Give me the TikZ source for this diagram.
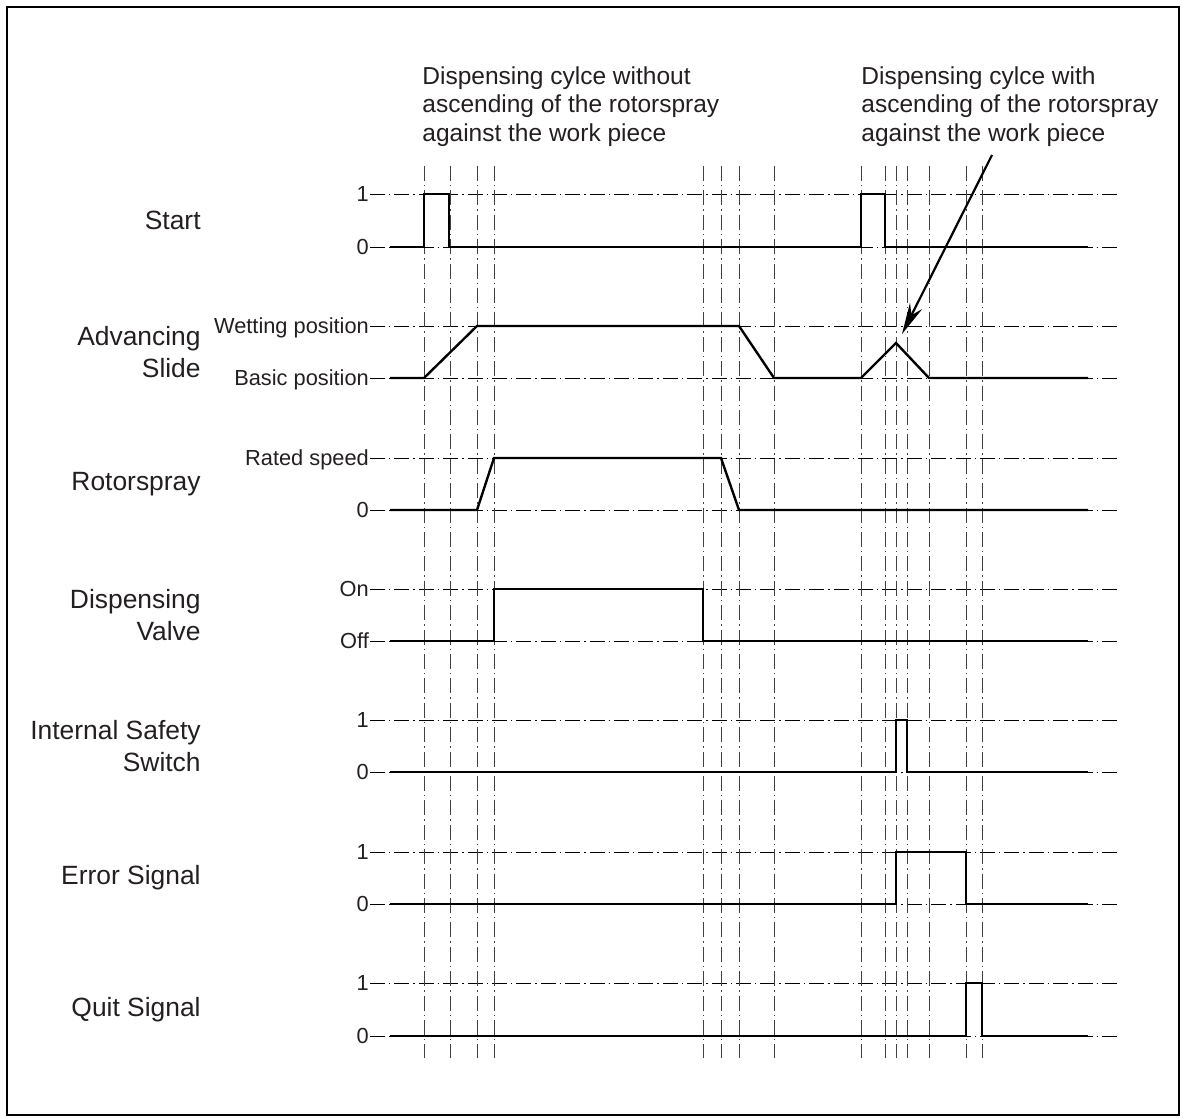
\documentclass[tikz,border=0pt]{standalone}
\usepackage{fontspec}
\setmainfont{Liberation Sans}
\usepackage{xcolor}
\usetikzlibrary{arrows.meta}

\definecolor{ink}{HTML}{231F20}

\begin{document}
\begin{tikzpicture}[
    x=0.5pt, y=-0.5pt,
    chname/.style={anchor=east, align=right, inner sep=0pt, text=ink, font=\fontsize{13.2}{16}\selectfont},
    lvl/.style={anchor=east, inner sep=0pt, outer sep=0.6pt, text=ink, text height=1.38ex, text depth=0pt, font=\fontsize{10.9}{13}\selectfont},
    note/.style={anchor=north west, align=left, inner sep=0pt, text=ink, font=\fontsize{12.25}{14.3}\selectfont},
    refl/.style={line width=0.45pt, dash pattern=on 7.5pt off 2pt on 0.7pt off 2pt},
    vline/.style={line width=0.45pt, black!75, dash pattern=on 7.5pt off 2pt on 0.7pt off 2pt},
    sig/.style={line width=1.2pt, line join=miter},
    arrow/.style={-{Stealth[length=5.5mm, width=2.4mm]}, line width=1.1pt}
]
\useasboundingbox (0,0) rectangle (1183,1118);
\draw[line width=1.3pt] (7,7) rectangle (1179,1115);

% headings
\node[note] (without) at (422,66) {Dispensing cylce without\\ascending of the rotorspray\\against the work piece};
\node[note] (with) at (861,66) {Dispensing cylce with\\ascending of the rotorspray\\against the work piece};

% channel names
\node[chname] (start) at (201,220.5) {Start};
\node[chname] (slide) at (201,352) {Advancing\\Slide};
\node[chname] (rotor) at (201,484) {Rotorspray};
\node[chname] (valve) at (201,615) {Dispensing\\Valve};
\node[chname] (safety) at (201,746) {Internal Safety\\Switch};
\node[chname] (error) at (201,878) {Error Signal};
\node[chname] (quit) at (201,1009.5) {Quit Signal};

% level labels
\node[lvl] (starthi) at (370,194) {1};
\node[lvl] (startlo) at (370,247) {0};
\node[lvl] (slidehi) at (370,326) {Wetting position};
\node[lvl] (slidelo) at (370,378) {Basic position};
\node[lvl] (rotorhi) at (370,458) {Rated speed};
\node[lvl] (rotorlo) at (370,510) {0};
\node[lvl] (valvehi) at (370,589) {On};
\node[lvl] (valvelo) at (370,641) {Off};
\node[lvl] (safetyhi) at (370,720) {1};
\node[lvl] (safetylo) at (370,772) {0};
\node[lvl] (errorhi) at (370,852) {1};
\node[lvl] (errorlo) at (370,904) {0};
\node[lvl] (quithi) at (370,983) {1};
\node[lvl] (quitlo) at (370,1036) {0};

% reference lines
\draw[refl] (starthi.east) -- (1120,194);
\draw[refl] (startlo.east) -- (1120,247);
\draw[refl] (slidehi.east) -- (1120,326);
\draw[refl] (slidelo.east) -- (1120,378);
\draw[refl] (rotorhi.east) -- (1120,458);
\draw[refl] (rotorlo.east) -- (1120,510);
\draw[refl] (valvehi.east) -- (1120,589);
\draw[refl] (valvelo.east) -- (1120,641);
\draw[refl] (safetyhi.east) -- (1120,720);
\draw[refl] (safetylo.east) -- (1120,772);
\draw[refl] (errorhi.east) -- (1120,852);
\draw[refl] (errorlo.east) -- (1120,904);
\draw[refl] (quithi.east) -- (1120,983);
\draw[refl] (quitlo.east) -- (1120,1036);

% time marks
\draw[vline] (424,166) -- (424,1058) (450,166) -- (450,1058)
    (477,166) -- (477,1058) (494,166) -- (494,1058)
    (703,166) -- (703,1058) (721,166) -- (721,1058)
    (739,166) -- (739,1058) (774,166) -- (774,1058)
    (861,166) -- (861,1058) (885,166) -- (885,1058)
    (896,166) -- (896,1058) (907,166) -- (907,1058)
    (929,166) -- (929,1058) (966,166) -- (966,1058)
    (982,166) -- (982,1058);

% signals
\draw[sig] (390,247) -- (424,247) -- (424,194) -- (449,194) -- (449,247) -- (861,247)
    -- (861,194) -- (885,194) -- (885,247) -- (1088,247);
\draw[sig] (390,378) -- (424,378) -- (477,326) -- (739,326) -- (774,378) -- (861,378)
    -- (896,343) -- (929,378) -- (1088,378);
\draw[sig] (390,510) -- (477,510) -- (494,458) -- (721,458) -- (739,510) -- (1088,510);
\draw[sig] (390,641) -- (494,641) -- (494,589) -- (703,589) -- (703,641) -- (1088,641);
\draw[sig] (390,772) -- (896,772) -- (896,720) -- (907,720) -- (907,772) -- (1088,772);
\draw[sig] (390,904) -- (896,904) -- (896,852) -- (966,852) -- (966,904) -- (1088,904);
\draw[sig] (390,1036) -- (966,1036) -- (966,983) -- (982,983) -- (982,1036) -- (1088,1036);

\draw[arrow] (992,155) -- (902,334);
\end{tikzpicture}
\end{document}
